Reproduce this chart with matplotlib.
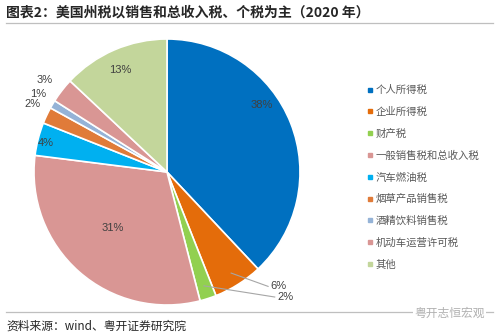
import math

import matplotlib
matplotlib.use("Agg")
import matplotlib.pyplot as plt
from matplotlib.lines import Line2D

plt.rcParams["font.family"] = ["Noto Sans CJK SC", "DejaVu Sans"]

categories = ["个人所得税", "企业所得税", "财产税", "一般销售税和总收入税", "汽车燃油税",
              "烟草产品销售税", "酒精饮料销售税", "机动车运营许可税", "其他"]
shares = [38, 6, 2, 31, 4, 2, 1, 3, 13]
colors = ["#0070C0", "#E46C0A", "#92D050", "#D99694", "#00B0F0",
          "#E07B39", "#95B3D7", "#D99694", "#C3D69B"]

title = "图表2：美国州税以销售和总收入税、个税为主（2020 年）"
source = "资料来源：wind、粤开证券研究院"

W, H = 499, 336
fig = plt.figure(figsize=(W / 100, H / 100), dpi=100)

# pie axes, square box centred on the pie
cx, cy, r = 167, 172, 133
ax = fig.add_axes([(cx - r) / W, (H - cy - r) / H, 2 * r / W, 2 * r / H])
wedges, _ = ax.pie(shares, colors=colors, startangle=90, counterclock=False,
                   radius=1, wedgeprops=dict(edgecolor="white", linewidth=1.2))
ax.set_xlim(-1, 1)
ax.set_ylim(-1, 1)
ax.set_aspect("equal")
ax.axis("off")

num_font = ["Liberation Sans", "DejaVu Sans"]

# percent labels: inside for large slices, outside for the thin ones
label_pos = {0: (0.71, 0.50), 3: (-0.41, -0.42), 4: (-0.91, 0.22), 8: (-0.35, 0.77),
             7: (-0.92, 0.69), 6: (-0.97, 0.59), 5: (-1.01, 0.51)}
for i, (x, y) in label_pos.items():
    ax.text(x, y, f"{shares[i]}%", ha="center", va="center", fontsize=8,
            color="#404040", family=num_font)

# leader lines for the two small slices at the bottom
for i, (tx, ty) in {1: (0.78, -0.86), 2: (0.83, -0.94)}.items():
    theta = 90 - (sum(shares[:i]) + shares[i] / 2) * 3.6
    px = 0.9 * math.cos(math.radians(theta))
    py = 0.9 * math.sin(math.radians(theta))
    ax.plot([px, tx - 0.02], [py, ty], color="#A6A6A6", lw=0.8, clip_on=False)
    ax.text(tx, ty, f"{shares[i]}%", ha="left", va="center", fontsize=8,
            color="#404040", family=num_font)

# legend: small square markers with grey text
handles = [Line2D([], [], marker="s", linestyle="none", markersize=3.5,
                  markerfacecolor=c, markeredgecolor=c) for c in colors]
fig.legend(handles, categories, loc="upper left",
           bbox_to_anchor=(362 / W, 1 - 80 / H), frameon=False,
           fontsize=7.5, labelcolor="#595959", handlelength=0.5,
           handletextpad=0.3, labelspacing=1.12, borderpad=0)

# title, rules and source note
fig.text(6 / W, 1 - 13 / H, title, ha="left", va="center", fontsize=10,
         fontweight="bold", color="#262626")
fig.add_artist(Line2D([6 / W, 493 / W], [1 - 23 / H] * 2, color="#BFBFBF", lw=0.9))
fig.add_artist(Line2D([6 / W, 493 / W], [1 - 312 / H] * 2, color="#BFBFBF", lw=0.9))
fig.text(6 / W, 1 - 326 / H, source, ha="left", va="center", fontsize=8.5,
         style="italic", color="#262626")
fig.text(485 / W, 1 - 313 / H, "粤开志恒宏观", ha="right", va="center", fontsize=8.5,
         color="#B0B0B0", bbox=dict(facecolor="white", edgecolor="none", pad=1))

fig.savefig("out.png", dpi=100)
